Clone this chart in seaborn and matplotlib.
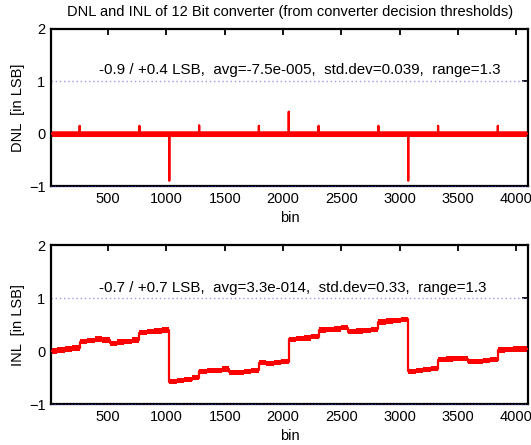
import numpy as np
import pandas as pd
import matplotlib
matplotlib.use("Agg")
import matplotlib.pyplot as plt
import seaborn as sns

# ---------------- data ----------------
n_bins = 4096
title = "DNL and INL of 12 Bit converter (from converter decision thresholds)"
dnl_text = "-0.9 / +0.4 LSB,  avg=-7.5e-005,  std.dev=0.039,  range=1.3"
inl_text = "-0.7 / +0.7 LSB,  avg=3.3e-014,  std.dev=0.33,  range=1.3"

# DNL spikes (bin, value); elsewhere DNL is ~0 with small noise
dnl_spike_bins = [256, 768, 1024, 1280, 1792, 2048, 2304, 2816, 3072, 3328, 3840]
dnl_spike_vals = [0.15, 0.15, -0.90, 0.16, 0.15, 0.42, 0.15, 0.15, -0.90, 0.15, 0.15]
dnl_noise = 0.055   # half-width of the noise band

# INL read every 64 bins
inl_step = 64
inl_vals = [
    0.00, 0.02, 0.04, 0.06,
    0.18, 0.20, 0.23, 0.21,
    0.15, 0.17, 0.18, 0.21,
    0.35, 0.37, 0.38, 0.40,
    -0.58, -0.56, -0.54, -0.50,
    -0.38, -0.37, -0.36, -0.34,
    -0.40, -0.40, -0.38, -0.36,
    -0.22, -0.24, -0.22, -0.20,
    0.22, 0.24, 0.25, 0.27,
    0.40, 0.41, 0.42, 0.44,
    0.37, 0.38, 0.39, 0.41,
    0.55, 0.57, 0.58, 0.60,
    -0.38, -0.37, -0.35, -0.33,
    -0.16, -0.15, -0.14, -0.14,
    -0.20, -0.19, -0.18, -0.16,
    0.02, 0.03, 0.04, 0.04,
]
inl_noise = 0.05

xticks = [500, 1000, 1500, 2000, 2500, 3000, 3500, 4000]
yticks = [-1, 0, 1, 2]

# ---------------- build tables ----------------
bins = np.arange(1, n_bins + 1)
dnl = np.zeros(n_bins)
for b, v in zip(dnl_spike_bins, dnl_spike_vals):
    dnl[b - 1] = v
dnl_df = pd.DataFrame({"bin": bins, "dnl": dnl})

inl_x = np.arange(0, n_bins + 1, inl_step)
inl_y = np.array(inl_vals + [inl_vals[-1]])
inl_df = pd.DataFrame({"bin": inl_x, "inl": inl_y})

# ---------------- style ----------------
sns.set_style("white")
plt.rcParams["font.family"] = ["Liberation Sans", "DejaVu Sans"]
plt.rcParams["text.color"] = "black"
plt.rcParams["axes.labelcolor"] = "black"
fs = 10.5
fs_note = 10.9

fig = plt.figure(figsize=(5.31, 4.45), dpi=100)
ax1 = fig.add_axes([0.096, 0.582, 0.898, 0.353])
ax2 = fig.add_axes([0.096, 0.092, 0.898, 0.357])

red = "#ff0000"
dot_col = "#9999ee"

def style_axis(ax, ylabel):
    ax.set_xlim(10, n_bins + 1)
    ax.set_ylim(-1, 2)
    ax.set_xticks(xticks)
    ax.set_yticks(yticks)
    ax.tick_params(direction="in", top=True, right=True, length=4, width=1.3,
                   labelsize=fs, colors="black", pad=4)
    for sp in ax.spines.values():
        sp.set_linewidth(1.6)
        sp.set_color("black")
        sp.set_visible(True)
    ax.set_xlabel("bin", fontsize=fs, labelpad=4)
    ax.set_ylabel(ylabel, fontsize=fs, labelpad=3)
    ax.axhline(1, color=dot_col, lw=1.0, ls=(0, (1, 2)), zorder=1)
    ax.axhline(-1, color="#3333aa", lw=0.8, ls=(0, (1, 2)), zorder=5, clip_on=False)

# DNL
ax1.fill_between(dnl_df["bin"], -dnl_noise, dnl_noise, color=red, lw=0, zorder=2)
sns.lineplot(data=dnl_df, x="bin", y="dnl", ax=ax1, color=red, lw=1.6,
             estimator=None, zorder=3)
style_axis(ax1, "DNL  [in LSB]")
ax1.text(419, 1.22, dnl_text, fontsize=fs_note, va="center", ha="left")

# INL
ax2.fill_between(inl_df["bin"], inl_df["inl"] - inl_noise, inl_df["inl"] + inl_noise,
                 step="post", color=red, lw=0, zorder=2)
sns.lineplot(data=inl_df, x="bin", y="inl", ax=ax2, color=red, lw=1.6,
             estimator=None, drawstyle="steps-post", zorder=3)
style_axis(ax2, "INL  [in LSB]")
ax2.text(419, 1.19, inl_text, fontsize=fs_note, va="center", ha="left")

fig.text(0.546, 0.973, title, ha="center", va="center", fontsize=fs)

fig.savefig("out.png", dpi=100, facecolor="white")
